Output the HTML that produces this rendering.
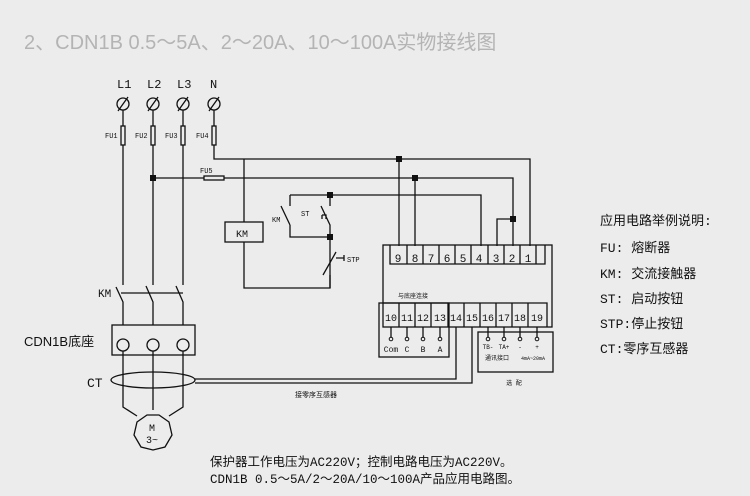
<!DOCTYPE html>
<html><head><meta charset="utf-8"><style>
html,body{margin:0;padding:0;background:#ececec;}
svg{display:block;}
text{font-family:"Liberation Mono","Noto Sans CJK SC",monospace;fill:#111;}
.s{font-family:"Liberation Sans","Noto Sans CJK SC",sans-serif;}
</style></head><body>
<svg width="750" height="496" viewBox="0 0 750 496" xmlns="http://www.w3.org/2000/svg">
<rect width="750" height="496" fill="#ececec"/>
<text x="24" y="49" class="s" font-size="20" style="fill:#b4b4b4">2、CDN1B 0.5～5A、2～20A、10～100A实物接线图</text>
<g stroke="#111" stroke-width="1.3" fill="none">
<circle cx="123" cy="104" r="6"/><circle cx="153" cy="104" r="6"/><circle cx="183" cy="104" r="6"/><circle cx="214" cy="104" r="6"/>
<path d="M118 111L128 97M148 111L158 97M178 111L188 97M209 111L219 97"/>
<path d="M123 110V126M123 145V285M153 110V126M153 145V285M183 110V126M183 145V285M214 110V126M214 145V159H530V246"/>
<rect x="121" y="126" width="4" height="19"/><rect x="151" y="126" width="4" height="19"/><rect x="181" y="126" width="4" height="19"/><rect x="212" y="126" width="4" height="19"/>
<path d="M153 178H204M224 178H513V246"/>
<rect x="204" y="176" width="20" height="4"/>
<path d="M399 159V246M415 178V246M513 219H497V246M290 195H481V246"/>
<path d="M244 159V222M244 242V288H330V252"/>
<rect x="225" y="222" width="38" height="20"/>
<path d="M290 195V206M281 206L290 225M290 225V237H330M330 195V206M321 206L330 225V245M330 245V252M323 275L336 252M330 275V288M336 258H344M344 255V261M322 215H326V219M322 215V219"/>
<path d="M116 287L123 302V325M146 286L153 302V325M176 286L183 302V325M121 293H183"/>
<rect x="112" y="325" width="83" height="30"/>
<circle cx="123" cy="345" r="6"/><circle cx="153" cy="345" r="6"/><circle cx="183" cy="345" r="6"/>
<path d="M123 351V407L137 416M153 351V410M183 351V407L169 416"/>
<ellipse cx="153" cy="380" rx="42" ry="8"/>
<polygon points="147,415 159,415 169,422 172,435 165,447 153,450 141,447 134,435 137,422"/>
<path d="M195 379H456V327M195 383H472V327"/>
<rect x="383" y="245" width="169" height="82"/>
<path d="M390 245V264H545V245M407 245V264M423 245V264M439 245V264M455 245V264M471 245V264M488 245V264M504 245V264M520 245V264M536 245V264"/>
<path d="M383 303H547V327M399 303V327M415 303V327M431 303V327M448 303V327M464 303V327M480 303V327M496 303V327M512 303V327M528 303V327"/>
<rect x="379" y="303" width="70" height="54"/>
<rect x="478" y="332" width="75" height="40"/>
<path d="M391 327V338M407 327V338M423 327V338M440 327V338M488 327V338M504 327V338M520 327V338M537 327V338"/>
</g>
<g fill="#111">
<rect x="396" y="156" width="6" height="6"/><rect x="412" y="175" width="6" height="6"/><rect x="150" y="175" width="6" height="6"/>
<rect x="510" y="216" width="6" height="6"/><rect x="327" y="192" width="6" height="6"/><rect x="327" y="234" width="6" height="6"/>
</g>
<g fill="#ececec" stroke="#111" stroke-width="1">
<circle cx="391" cy="339" r="1.8"/><circle cx="407" cy="339" r="1.8"/><circle cx="423" cy="339" r="1.8"/><circle cx="440" cy="339" r="1.8"/>
<circle cx="488" cy="339" r="1.8"/><circle cx="504" cy="339" r="1.8"/><circle cx="520" cy="339" r="1.8"/><circle cx="537" cy="339" r="1.8"/>
</g>
<g font-size="12">
<text x="117" y="88">L1</text><text x="147" y="88">L2</text><text x="177" y="88">L3</text><text x="210" y="88">N</text>
</g>
<g font-size="7">
<text x="105" y="138">FU1</text><text x="135" y="138">FU2</text><text x="165" y="138">FU3</text><text x="196" y="138">FU4</text>
<text x="200" y="173">FU5</text><text x="272" y="222">KM</text><text x="301" y="216">ST</text><text x="347" y="262">STP</text>
</g>
<text x="236" y="237" font-size="10">KM</text>
<text x="98" y="297" font-size="11">KM</text>
<text x="24" y="346" font-size="13" class="s">CDN1B底座</text>
<text x="87" y="387" font-size="13">CT</text>
<text x="149" y="431" font-size="10">M</text><text x="146" y="443" font-size="10">3~</text>
<g font-size="11" text-anchor="middle">
<text x="398" y="262">9</text><text x="415" y="262">8</text><text x="431" y="262">7</text><text x="447" y="262">6</text><text x="463" y="262">5</text><text x="479" y="262">4</text><text x="496" y="262">3</text><text x="512" y="262">2</text><text x="528" y="262">1</text>
</g>
<g font-size="10" text-anchor="middle" textLength="14">
<text x="391" y="321">10</text><text x="407" y="321">11</text><text x="423" y="321">12</text><text x="440" y="321">13</text><text x="456" y="321">14</text><text x="472" y="321">15</text><text x="488" y="321">16</text><text x="504" y="321">17</text><text x="520" y="321">18</text><text x="537" y="321">19</text>
</g>
<g font-size="8" text-anchor="middle">
<text x="391" y="352">Com</text><text x="407" y="352">C</text><text x="423" y="352">B</text><text x="440" y="352">A</text>
<text x="488" y="349" font-size="6">TB-</text><text x="504" y="349" font-size="6">TA+</text><text x="520" y="349" font-size="6">-</text><text x="537" y="349" font-size="6">+</text>
<text x="497" y="360" font-size="6">通讯接口</text><text x="533" y="360" font-size="5">4mA~20mA</text>
<text x="413" y="298" font-size="6">与底座连接</text>
<text x="514" y="385" font-size="6">选 配</text>
<text x="316" y="397" font-size="7">接零序互感器</text>
</g>
<g font-size="13">
<text x="600" y="225">应用电路举例说明:</text>
<text x="600" y="252">FU:  熔断器</text>
<text x="600" y="278">KM:  交流接触器</text>
<text x="600" y="303">ST:  启动按钮</text>
<text x="600" y="328">STP:停止按钮</text>
<text x="600" y="353">CT:零序互感器</text>
</g>
<text x="210" y="466" font-size="12.5">保护器工作电压为AC220V；控制电路电压为AC220V。</text>
<text x="210" y="483" font-size="12.5">CDN1B 0.5～5A/2～20A/10～100A产品应用电路图。</text>
</svg>
</body></html>
